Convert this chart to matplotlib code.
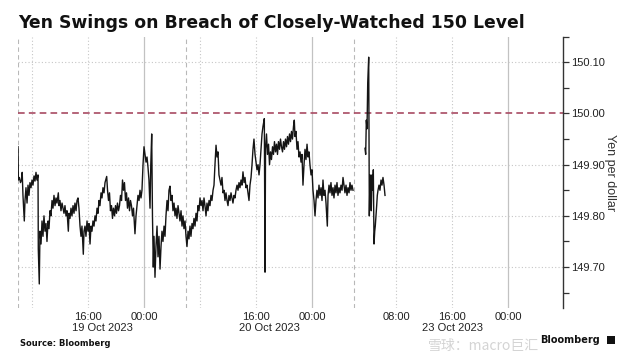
import matplotlib
matplotlib.use("Agg")
import matplotlib.pyplot as plt
from matplotlib.patches import Rectangle
from matplotlib.ticker import MultipleLocator

# Hours since 19 Oct 06:00 on the trading-session axis (weekend squeezed out:
# hour 48 is the Friday close, the Monday session picks up right after it).
HOURS_A = [
    0.00, 0.05, 0.2, 0.36, 0.5, 0.6, 0.71, 0.8, 0.9, 1.0,
    1.14, 1.29, 1.43, 1.57, 1.71, 1.86, 2.0, 2.14, 2.29, 2.43,
    2.57, 2.71, 2.86, 2.9, 3.04, 3.14, 3.29, 3.43, 3.57, 3.71,
    3.86, 4.0, 4.14, 4.29, 4.43, 4.57, 4.71, 4.86, 5.0, 5.14,
    5.29, 5.43, 5.57, 5.76, 5.86, 6.0, 6.14, 6.29, 6.43, 6.57,
    6.71, 6.86, 7.0, 7.19, 7.29, 7.43, 7.57, 7.71, 7.86, 8.0,
    8.14, 8.29, 8.43, 8.57, 8.71, 8.86, 9.0, 9.14, 9.33, 9.43,
    9.57, 9.71, 9.86, 10.0, 10.14, 10.29, 10.43, 10.57, 10.71, 10.86,
    11.0, 11.14, 11.29, 11.43, 11.57, 11.71, 11.86, 12.0, 12.14, 12.29,
    12.43, 12.67, 12.79, 12.93, 13.07, 13.21, 13.36, 13.5, 13.64, 13.79,
    13.93, 14.07, 14.21, 14.36, 14.5, 14.64, 14.79, 14.93, 15.07, 15.21,
    15.36, 15.5, 15.64, 15.79, 15.93, 16.07, 16.21, 16.36, 16.5, 16.71,
    16.86, 17.0, 17.14, 17.29, 17.43, 17.57, 17.71, 17.86, 18.0, 18.14,
    18.29, 18.43, 18.57, 18.71, 18.86, 18.97, 19.1, 19.21, 19.33, 19.43,
    19.57, 19.71, 19.86, 20.0, 20.14, 20.29, 20.43, 20.57, 20.71, 20.86,
    21.0, 21.14, 21.29, 21.43, 21.57, 21.71, 21.86, 22.0, 22.14, 22.29,
    22.43, 22.57, 22.71, 22.86, 23.0, 23.14, 23.29, 23.43, 23.57, 23.71,
    23.86, 24.0, 24.14, 24.29, 24.43, 24.57, 24.71, 24.86, 25.0, 25.14,
    25.29, 25.43, 25.57, 25.71, 25.86, 26.0, 26.14, 26.29, 26.43, 26.57,
    26.71, 26.86, 27.0, 27.14, 27.29, 27.43, 27.57, 27.71, 27.86, 28.0,
    28.14, 28.29, 28.43, 28.57, 28.71, 28.86, 29.0, 29.14, 29.29, 29.43,
    29.57, 29.71, 29.86, 30.0, 30.14, 30.29, 30.43, 30.57, 30.71, 30.86,
    31.0, 31.14, 31.29, 31.43, 31.57, 31.71, 31.86, 32.0, 32.14, 32.29,
    32.43, 32.57, 32.71, 32.86, 33.0, 33.14, 33.29, 33.43, 33.57, 33.71,
    33.86, 34.0, 34.14, 34.29, 34.43, 34.57, 34.71, 34.86, 35.0, 35.19,
    35.29, 35.36, 35.5, 35.64, 35.79, 35.93, 36.07, 36.21, 36.36, 36.5,
    36.64, 36.79, 36.93, 37.07, 37.21, 37.36, 37.5, 37.64, 37.79, 37.93,
    38.07, 38.21, 38.36, 38.5, 38.64, 38.79, 38.93, 39.07, 39.21, 39.36,
    39.47, 39.57, 39.71, 39.86, 40.0, 40.14, 40.29, 40.43, 40.57, 40.71,
    40.86, 41.0, 41.14, 41.29, 41.43, 41.57, 41.71, 41.86, 42.0, 42.14,
    42.29, 42.43, 42.57, 42.71, 42.86, 43.0, 43.14, 43.29, 43.43, 43.57,
    43.71, 43.86, 44.0, 44.19, 44.29, 44.43, 44.57, 44.71, 44.86, 45.0,
    45.14, 45.29, 45.43, 45.57, 45.71, 45.86, 46.0, 46.14, 46.29, 46.43,
    46.57, 46.71, 46.86, 47.0, 47.14, 47.29, 47.43, 47.57, 47.71, 47.86,
]
PRICE_A = [
    149.935, 149.870, 149.875, 149.865, 149.870, 149.885, 149.840, 149.815, 149.790, 149.830,
    149.855, 149.825, 149.860, 149.840, 149.865, 149.855, 149.870, 149.860, 149.878, 149.868,
    149.885, 149.870, 149.880, 149.735, 149.667, 149.770, 149.745, 149.790, 149.760, 149.800,
    149.770, 149.785, 149.750, 149.790, 149.775, 149.810, 149.800, 149.830, 149.815, 149.840,
    149.820, 149.835, 149.825, 149.845, 149.820, 149.830, 149.810, 149.825, 149.815, 149.805,
    149.820, 149.800, 149.810, 149.770, 149.805, 149.795, 149.815, 149.800, 149.820, 149.805,
    149.825, 149.810, 149.830, 149.835, 149.815, 149.780, 149.760, 149.780, 149.725, 149.770,
    149.780, 149.760, 149.790, 149.770, 149.785, 149.745, 149.780, 149.770, 149.790, 149.780,
    149.800, 149.790, 149.815, 149.805, 149.830, 149.820, 149.845, 149.835, 149.855, 149.845,
    149.865, 149.877, 149.850, 149.830, 149.845, 149.810, 149.820, 149.795, 149.815, 149.800,
    149.820, 149.805, 149.825, 149.810, 149.820, 149.840, 149.830, 149.870, 149.850, 149.865,
    149.830, 149.845, 149.815, 149.835, 149.810, 149.830, 149.820, 149.800, 149.815, 149.765,
    149.800, 149.820, 149.840, 149.830, 149.850, 149.835, 149.850, 149.900, 149.935, 149.920,
    149.905, 149.915, 149.895, 149.870, 149.815, 149.900, 149.960, 149.800, 149.700, 149.760,
    149.680, 149.740, 149.780, 149.720, 149.760, 149.696, 149.740, 149.770, 149.750, 149.780,
    149.760, 149.800, 149.830, 149.810, 149.850, 149.858, 149.830, 149.840, 149.810, 149.825,
    149.800, 149.815, 149.795, 149.820, 149.805, 149.790, 149.810, 149.780, 149.800, 149.775,
    149.790, 149.760, 149.740, 149.770, 149.755, 149.780, 149.760, 149.785, 149.775, 149.795,
    149.780, 149.805, 149.790, 149.820, 149.810, 149.835, 149.820, 149.830, 149.810, 149.835,
    149.820, 149.800, 149.825, 149.810, 149.830, 149.820, 149.840, 149.830, 149.850, 149.860,
    149.900, 149.938, 149.915, 149.925, 149.880, 149.870, 149.860, 149.875, 149.845, 149.850,
    149.830, 149.845, 149.830, 149.820, 149.840, 149.830, 149.845, 149.835, 149.825, 149.840,
    149.835, 149.850, 149.860, 149.850, 149.865, 149.855, 149.870, 149.860, 149.886, 149.865,
    149.875, 149.855, 149.860, 149.845, 149.830, 149.860, 149.875, 149.900, 149.930, 149.950,
    149.920, 149.905, 149.890, 149.900, 149.880, 149.900, 149.930, 149.960, 149.975, 149.990,
    149.690, 149.930, 149.960, 149.920, 149.940, 149.900, 149.925, 149.910, 149.935, 149.920,
    149.945, 149.925, 149.940, 149.920, 149.945, 149.930, 149.950, 149.935, 149.925, 149.945,
    149.930, 149.950, 149.935, 149.955, 149.940, 149.960, 149.945, 149.965, 149.950, 149.975,
    149.987, 149.955, 149.965, 149.930, 149.945, 149.915, 149.925, 149.905, 149.920, 149.860,
    149.900, 149.930, 149.910, 149.940, 149.915, 149.925, 149.900, 149.880, 149.890, 149.850,
    149.830, 149.800, 149.830, 149.850, 149.835, 149.860, 149.840, 149.855, 149.830, 149.870,
    149.840, 149.850, 149.825, 149.780, 149.840, 149.860, 149.845, 149.865, 149.840, 149.855,
    149.835, 149.860, 149.845, 149.865, 149.840, 149.855, 149.845, 149.860, 149.850, 149.875,
    149.860, 149.845, 149.860, 149.840, 149.855, 149.845, 149.865, 149.850, 149.860, 149.850,
]

# Monday 23 Oct session, after the weekend break
HOURS_B = [49.57, 49.67, 49.76, 49.86, 49.96, 50.1, 50.19, 50.29, 50.39, 50.47,
           50.57, 50.67, 50.76, 50.86, 50.96, 51.04, 51.14, 51.24, 51.33, 51.43,
           51.57, 51.71, 51.86, 52.0, 52.14, 52.29, 52.43]
PRICE_B = [149.932, 149.920, 149.987, 149.970, 150.060, 150.110, 149.800, 149.880, 149.860, 149.810,
           149.880, 149.850, 149.890, 149.745, 149.770, 149.780, 149.800, 149.820, 149.840, 149.850,
           149.860, 149.850, 149.870, 149.860, 149.875, 149.860, 149.840]

LEVEL = 150.00

TIME_TICKS = [10, 18, 34, 42, 54, 62, 70]
TIME_LABELS = ["16:00", "00:00", "16:00", "00:00", "08:00", "16:00", "00:00"]
DATE_POS = [12, 35.9, 62]
DATE_LABELS = ["19 Oct 2023", "20 Oct 2023", "23 Oct 2023"]
MIDNIGHTS = [18, 42, 70]
SESSION_BREAKS = [0, 24, 48]
INTRADAY = [2, 10, 26, 34, 54, 62]

TICKFONT = "Liberation Sans"
GRID = "#c6c6c6"
RED = "#a84a62"

fig = plt.figure(figsize=(6.28, 3.62), dpi=100)
ax = fig.add_axes([18 / 628, 1 - 308 / 362, (562.7 - 18) / 628, (308 - 36.7) / 362])

ax.plot(HOURS_A, PRICE_A, color="#151515", lw=1.0, zorder=3)
ax.plot(HOURS_B, PRICE_B, color="#151515", lw=1.0, zorder=3)
ax.axhline(LEVEL, color=RED, lw=1.2, ls=(0, (4, 2.5)), zorder=2)

for y in [149.70, 149.80, 149.90, 150.10]:
    ax.axhline(y, color=GRID, lw=0.8, ls=(0, (1, 2)), zorder=1)
for x in INTRADAY:
    ax.axvline(x, color=GRID, lw=0.8, ls=(0, (1, 2)), zorder=1)
for x in MIDNIGHTS:
    ax.axvline(x, color="#c2c2c2", lw=0.9, zorder=1)
for x in SESSION_BREAKS:
    ax.axvline(x, color="#b8b8b8", lw=0.8, ls=(0, (4, 3)), zorder=1)

ax.set_xlim(0, (562.7 - 18) / 7)
ax.set_ylim(149.62, 150.15)

for sp in ["top", "left", "bottom"]:
    ax.spines[sp].set_visible(False)
ax.spines["right"].set_color("#333333")
ax.spines["right"].set_linewidth(1.0)

ax.yaxis.tick_right()
ax.yaxis.set_label_position("right")
ax.yaxis.set_major_locator(MultipleLocator(0.1))
ax.yaxis.set_minor_locator(MultipleLocator(0.05))
ax.yaxis.set_major_formatter(lambda v, p: f"{v:.2f}")
ax.tick_params(axis="y", which="both", direction="out", length=4, width=0.9,
               color="#333333", pad=2, labelsize=8, labelcolor="#222222")
for lab in ax.get_yticklabels():
    lab.set_fontfamily(TICKFONT)
ax.set_ylabel("Yen per dollar", rotation=270, labelpad=8, fontsize=9,
              family=TICKFONT, color="#333333")

ax.set_xticks(TIME_TICKS)
ax.set_xticklabels(TIME_LABELS, family=TICKFONT, fontsize=8, color="#222222")
ax.tick_params(axis="x", length=0, pad=3)
for x, lab in zip(DATE_POS, DATE_LABELS):
    ax.annotate(lab, xy=(x, 0), xycoords=("data", "axes fraction"),
                xytext=(0, -14.5), textcoords="offset points",
                ha="center", va="center", fontsize=8, family=TICKFONT, color="#222222")

fig.text(18 / 628, 1 - 23 / 362, "Yen Swings on Breach of Closely-Watched 150 Level",
         fontsize=12.4, fontweight="bold", family="DejaVu Sans", color="#111111",
         ha="left", va="center")
fig.text(20 / 628, 1 - 343 / 362, "Source: Bloomberg", fontsize=6, fontweight="bold",
         family="DejaVu Sans", color="#111111", ha="left", va="center")

# watermark left on the source image
fig.text(428 / 628, 1 - 346 / 362, "雪球：macro巨汇", fontsize=10,
         family=["Noto Sans CJK SC", "DejaVu Sans"], color="#d4d4d4",
         ha="left", va="center", zorder=1)
fig.text(600 / 628, 1 - 340 / 362, "Bloomberg", fontsize=7, fontweight="bold",
         family="DejaVu Sans", color="#111111", ha="right", va="center", zorder=5)
fig.patches.append(Rectangle((607 / 628, 1 - 344 / 362), 8 / 628, 8 / 362,
                             transform=fig.transFigure, facecolor="#111111",
                             edgecolor="none", zorder=5))

fig.savefig("out.png", dpi=100)
